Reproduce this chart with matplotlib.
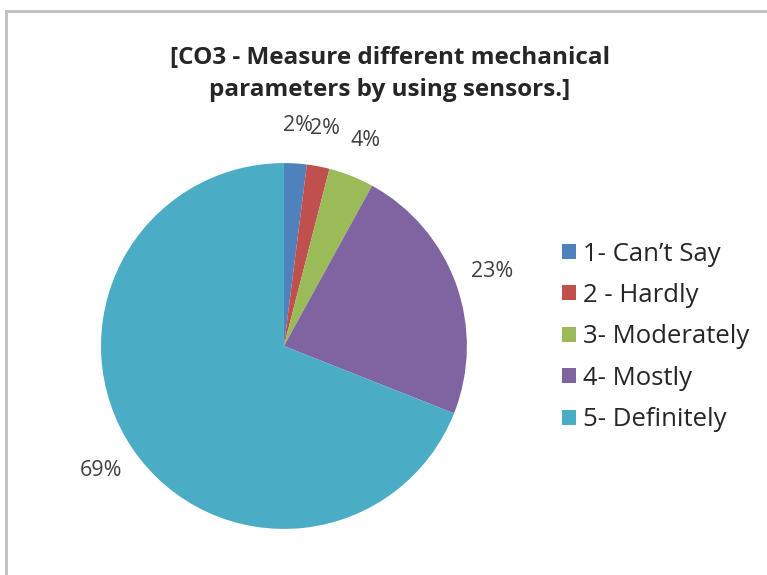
import matplotlib.pyplot as plt
from matplotlib.lines import Line2D

# data
categories = ["1- Can\u2019t Say", "2 - Hardly", "3- Moderately", "4- Mostly", "5- Definitely"]
percent = [2, 2, 4, 23, 69]
colors = ["#4F81BD", "#C0504D", "#9BBB59", "#8064A2", "#4BACC6"]
title = "[CO3 - Measure different mechanical\nparameters by using sensors.]"

plt.rcParams['font.family'] = ['Open Sans', 'DejaVu Sans']

fig = plt.figure(figsize=(7.67, 5.75), dpi=100)
ax = fig.add_axes([0.1317, 0.08, 0.477, 0.6365])

wedges, texts, autotexts = ax.pie(
    percent, colors=colors, startangle=90, counterclock=False,
    autopct='%1.0f%%', pctdistance=1.21, radius=1.0,
    wedgeprops=dict(linewidth=0))
for t in autotexts:
    t.set_fontsize(15.5)
    t.set_color('#404040')
ax.set_xlim(-1, 1)
ax.set_ylim(-1, 1)
ax.set_aspect('equal')

fig.text(0.508, 0.872, title, ha='center', va='center', fontsize=17.5,
         fontweight='bold', color='#262626', linespacing=1.45)

leg = fig.legend(wedges, categories, loc='center left', bbox_to_anchor=(0.703, 0.414),
                 frameon=False, fontsize=18.5, handlelength=0.52, handleheight=0.52,
                 handletextpad=0.3, labelspacing=0.64, labelcolor='#262626')

# chart border (only left and top edges visible in the crop)
fig.add_artist(Line2D([0.0078, 1.0], [0.981, 0.981], color='#BFBFBF', lw=2))
fig.add_artist(Line2D([0.0078, 0.0078], [0.0, 0.981], color='#BFBFBF', lw=2))

fig.savefig('out.png', dpi=100)
